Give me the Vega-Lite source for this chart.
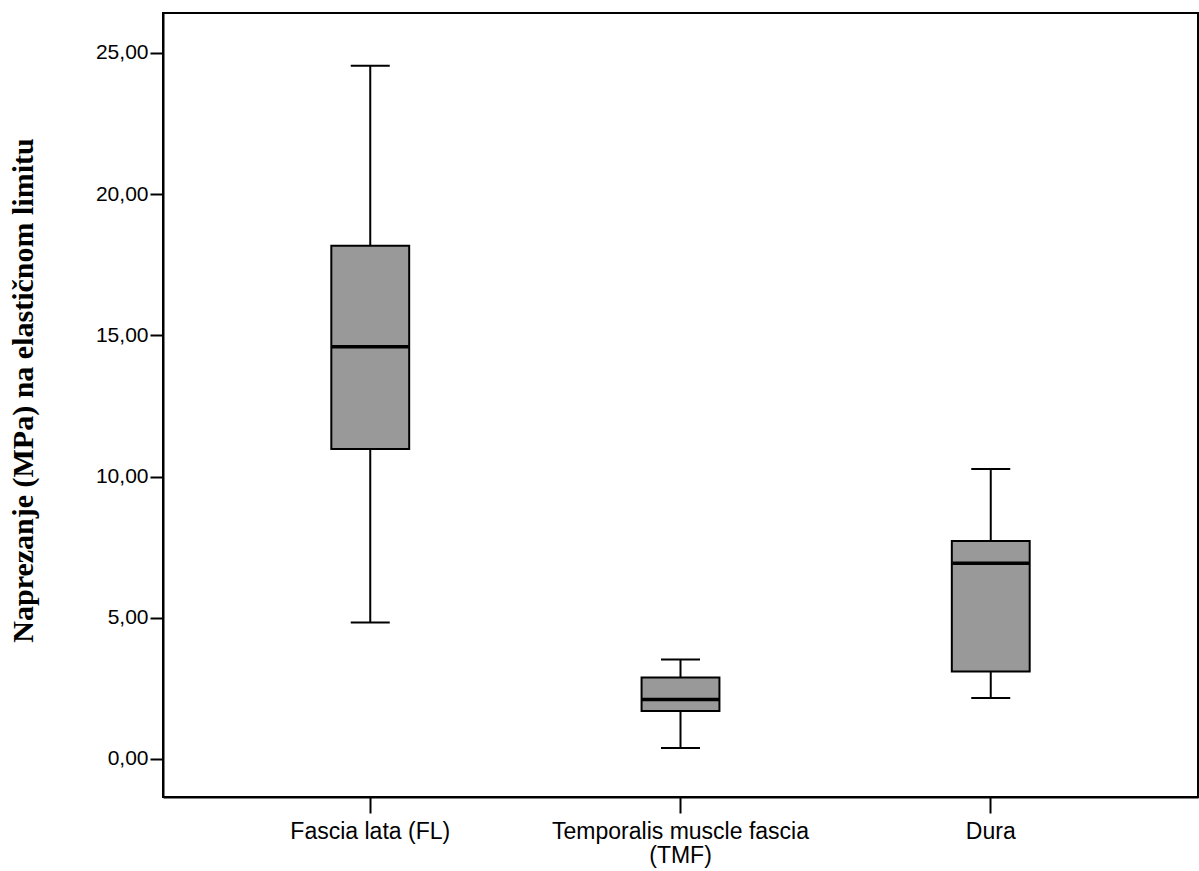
{
  "$schema": "https://vega.github.io/schema/vega-lite/v6.json",
  "autosize": {"type": "none"},
  "padding": {"left": 163, "top": 13, "right": 1, "bottom": 74},
  "width": 1035,
  "height": 784,
  "background": "white",
  "config": {
    "view": {"stroke": "black", "strokeWidth": 2},
    "axis": {"grid": false, "domainColor": "black", "domainWidth": 2, "tickColor": "black", "tickWidth": 2, "labelColor": "black", "labelFont": "Liberation Sans", "titleColor": "black"}
  },
  "data": {
    "values": [
      {"tissue": "Fascia lata (FL)", "min": 4.83, "q1": 10.98, "median": 14.60, "q3": 18.17, "max": 24.55},
      {"tissue": "Temporalis muscle fascia (TMF)", "min": 0.39, "q1": 1.70, "median": 2.11, "q3": 2.89, "max": 3.52},
      {"tissue": "Dura", "min": 2.16, "q1": 3.10, "median": 6.93, "q3": 7.72, "max": 10.27}
    ]
  },
  "encoding": {
    "x": {
      "field": "tissue", "type": "nominal", "sort": null,
      "scale": {"paddingInner": 0.749, "paddingOuter": 0.5425},
      "axis": {
        "title": null, "labelAngle": 0, "labelFontSize": 23, "tickSize": 16, "labelPadding": 7,
        "labelLineHeight": 24, "labelLimit": 400, "labelOverlap": false, "labelBound": false,
        "labelExpr": "datum.label == 'Temporalis muscle fascia (TMF)' ? ['Temporalis muscle fascia', '(TMF)'] : datum.label"
      }
    }
  },
  "layer": [
    {
      "mark": {"type": "rule", "color": "black", "strokeWidth": 2},
      "encoding": {
        "y": {"field": "min", "type": "quantitative",
          "scale": {"domain": [-1.346, 26.416], "nice": false, "zero": false},
          "axis": {
            "title": "Naprezanje (MPa) na elastičnom limitu",
            "titleFont": "Liberation Serif", "titleFontWeight": "bold", "titleFontSize": 30,
            "titlePadding": 57, "titleY": 377,
            "values": [0, 5, 10, 15, 20, 25],
            "labelExpr": "replace(format(datum.value, '.2f'), '.', ',')",
            "labelFontSize": 21, "tickSize": 13, "labelPadding": 2
          }
        },
        "y2": {"field": "max"}
      }
    },
    {
      "mark": {"type": "bar", "fill": "#999999", "stroke": "black", "strokeWidth": 2, "opacity": 1},
      "encoding": {
        "y": {"field": "q1", "type": "quantitative"},
        "y2": {"field": "q3"}
      }
    },
    {
      "mark": {"type": "tick", "color": "black", "size": 39, "thickness": 2, "opacity": 1},
      "encoding": {"y": {"field": "min", "type": "quantitative"}}
    },
    {
      "mark": {"type": "tick", "color": "black", "size": 39, "thickness": 2, "opacity": 1},
      "encoding": {"y": {"field": "max", "type": "quantitative"}}
    },
    {
      "mark": {"type": "tick", "color": "black", "size": 77, "thickness": 3.5, "opacity": 1},
      "encoding": {"y": {"field": "median", "type": "quantitative"}}
    }
  ]
}
